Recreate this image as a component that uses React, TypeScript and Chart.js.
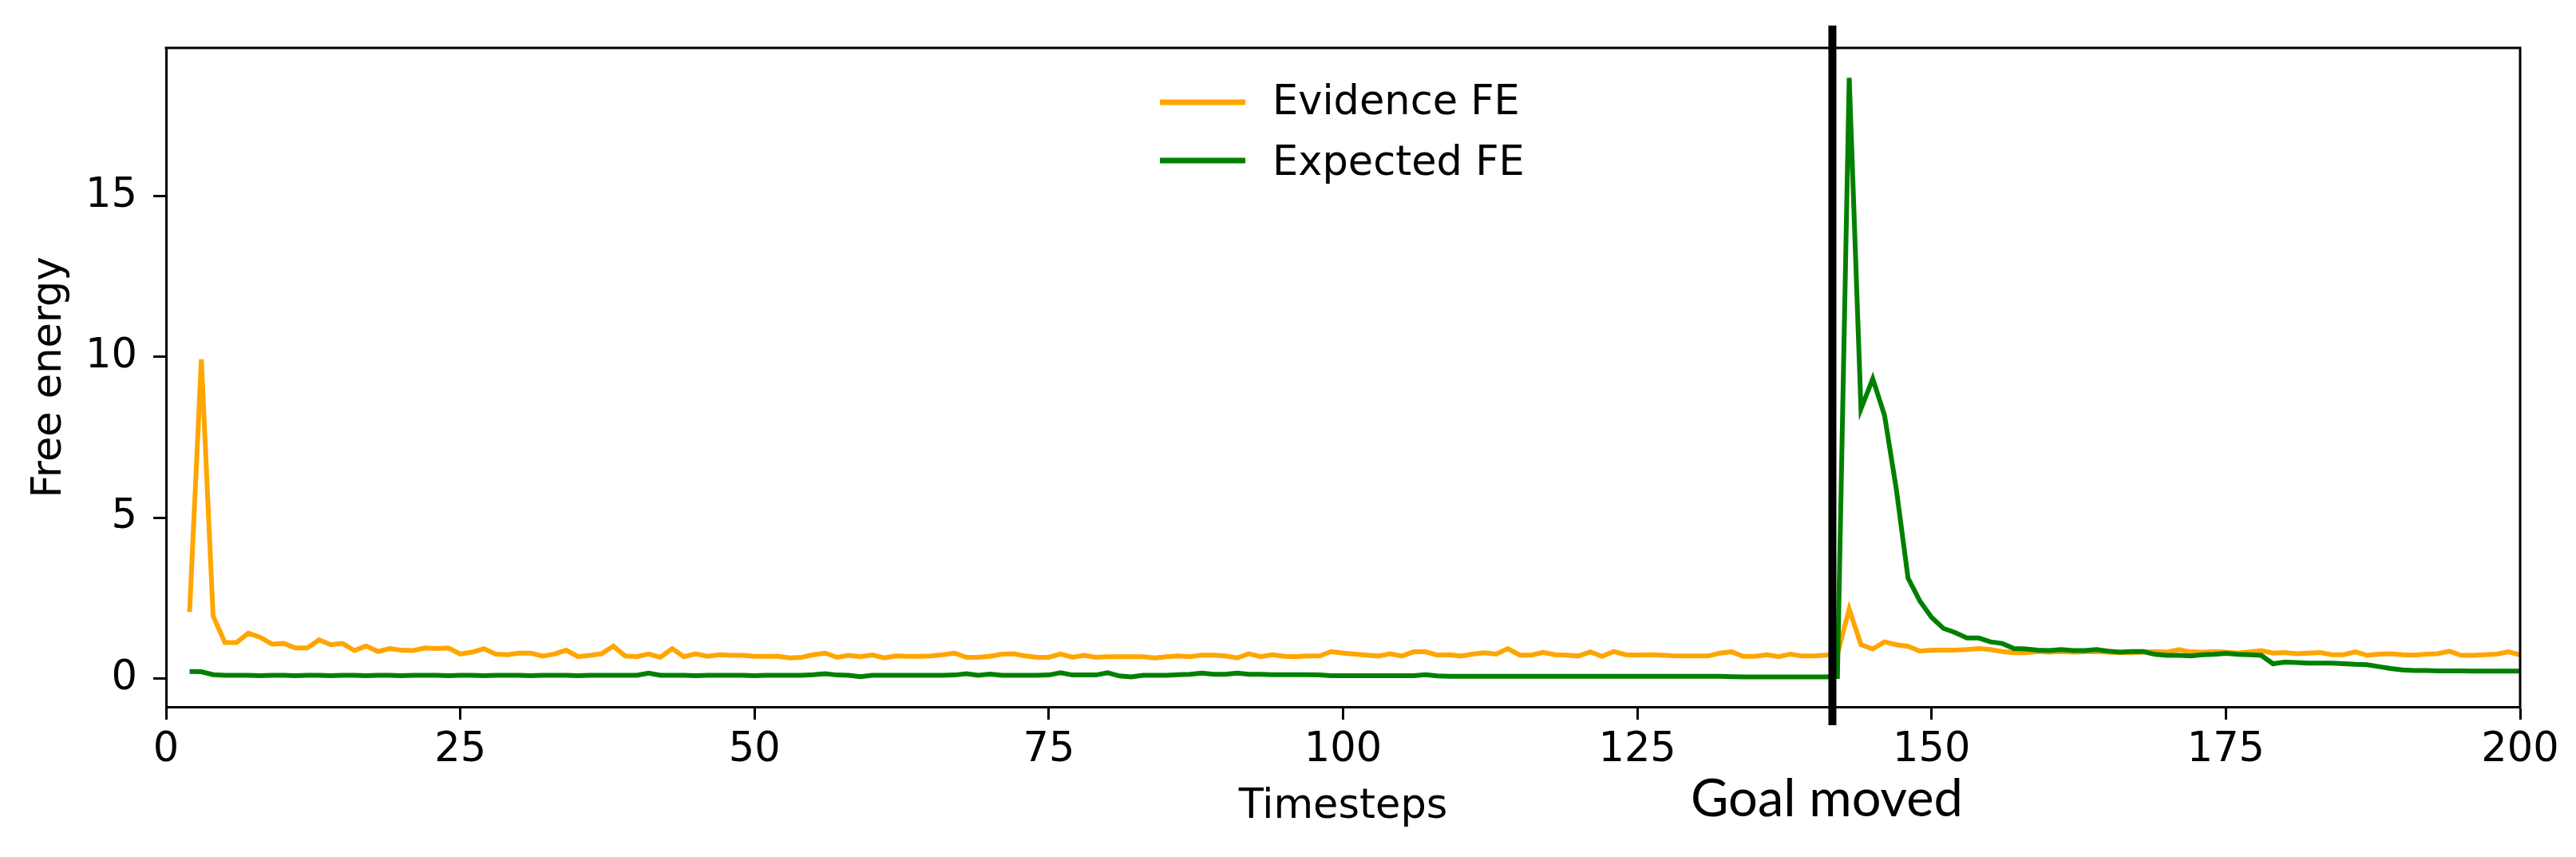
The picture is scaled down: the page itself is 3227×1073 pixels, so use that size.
import React, { useEffect, useRef } from "react";
import { Chart, registerables } from "chart.js";

Chart.register(...registerables);

// ---- data ----
const TIMESTEPS: number[] = Array.from({ length: 199 }, (_, i) => i + 2); // 2..200

const SERIES_LABELS = ["Evidence FE", "Expected FE"];

// Evidence FE (orange), timesteps 2..200
const EVIDENCE_FE: number[] = [
  2.07, 9.92, 1.94, 1.12, 1.12, 1.41, 1.28, 1.07, 1.09, 0.95, // 2-11
  0.95, 1.2, 1.05, 1.09, 0.87, 1.01, 0.84, 0.93, 0.88, 0.87, // 12-21
  0.95, 0.93, 0.95, 0.76, 0.82, 0.93, 0.76, 0.74, 0.79, 0.79, // 22-31
  0.7, 0.76, 0.88, 0.68, 0.72, 0.77, 1.01, 0.7, 0.68, 0.76, // 32-41
  0.66, 0.93, 0.68, 0.77, 0.69, 0.74, 0.72, 0.72, 0.69, 0.69, // 42-51
  0.69, 0.64, 0.66, 0.74, 0.79, 0.66, 0.72, 0.68, 0.73, 0.64, // 52-61
  0.7, 0.69, 0.69, 0.7, 0.74, 0.79, 0.66, 0.66, 0.69, 0.76, // 62-71
  0.77, 0.7, 0.66, 0.66, 0.76, 0.66, 0.72, 0.66, 0.68, 0.68, // 72-81
  0.68, 0.68, 0.64, 0.68, 0.7, 0.68, 0.73, 0.73, 0.7, 0.64, // 82-91
  0.77, 0.68, 0.74, 0.69, 0.68, 0.7, 0.7, 0.84, 0.79, 0.76, // 92-101
  0.73, 0.7, 0.77, 0.7, 0.83, 0.83, 0.73, 0.74, 0.7, 0.76, // 102-111
  0.8, 0.76, 0.93, 0.73, 0.73, 0.81, 0.74, 0.73, 0.7, 0.83, // 112-121
  0.69, 0.84, 0.74, 0.73, 0.74, 0.73, 0.71, 0.7, 0.7, 0.7, // 122-131
  0.79, 0.83, 0.69, 0.69, 0.74, 0.68, 0.76, 0.7, 0.7, 0.73, // 132-141
  0.75, 2.16, 1.05, 0.92, 1.14, 1.05, 1.0, 0.85, 0.88, 0.88, // 142-151
  0.88, 0.9, 0.93, 0.9, 0.84, 0.8, 0.8, 0.84, 0.82, 0.84, // 152-161
  0.82, 0.83, 0.84, 0.82, 0.8, 0.8, 0.82, 0.84, 0.82, 0.9, // 162-171
  0.83, 0.82, 0.84, 0.82, 0.79, 0.83, 0.87, 0.79, 0.81, 0.77, // 172-181
  0.79, 0.81, 0.74, 0.74, 0.83, 0.72, 0.76, 0.77, 0.74, 0.73, // 182-191
  0.76, 0.77, 0.85, 0.72, 0.72, 0.74, 0.76, 0.83, 0.74, // 192-200
];

// Expected FE (green), timesteps 2..200
const EXPECTED_FE: number[] = [
  0.22, 0.21, 0.12, 0.1, 0.1, 0.1, 0.09, 0.1, 0.1, 0.09, // 2-11
  0.1, 0.1, 0.09, 0.1, 0.1, 0.09, 0.1, 0.1, 0.09, 0.1, // 12-21
  0.1, 0.1, 0.09, 0.1, 0.1, 0.09, 0.1, 0.1, 0.1, 0.09, // 22-31
  0.1, 0.1, 0.1, 0.09, 0.1, 0.1, 0.1, 0.1, 0.1, 0.17, // 32-41
  0.1, 0.1, 0.1, 0.09, 0.1, 0.1, 0.1, 0.1, 0.09, 0.1, // 42-51
  0.1, 0.1, 0.1, 0.12, 0.15, 0.11, 0.1, 0.06, 0.1, 0.1, // 52-61
  0.1, 0.1, 0.1, 0.1, 0.1, 0.11, 0.15, 0.1, 0.14, 0.1, // 62-71
  0.1, 0.1, 0.1, 0.11, 0.18, 0.11, 0.11, 0.11, 0.18, 0.08, // 72-81
  0.05, 0.1, 0.1, 0.1, 0.12, 0.13, 0.17, 0.13, 0.13, 0.17, // 82-91
  0.13, 0.13, 0.12, 0.12, 0.12, 0.12, 0.11, 0.09, 0.09, 0.09, // 92-101
  0.09, 0.09, 0.09, 0.09, 0.09, 0.12, 0.08, 0.07, 0.07, 0.07, // 102-111
  0.07, 0.07, 0.07, 0.07, 0.07, 0.07, 0.07, 0.07, 0.07, 0.07, // 112-121
  0.07, 0.07, 0.07, 0.07, 0.07, 0.07, 0.07, 0.07, 0.07, 0.07, // 122-131
  0.07, 0.06, 0.05, 0.05, 0.05, 0.05, 0.05, 0.05, 0.05, 0.05, // 132-141
  0.06, 18.67, 8.38, 9.32, 8.18, 5.89, 3.12, 2.41, 1.9, 1.56, // 142-151
  1.43, 1.26, 1.26, 1.14, 1.09, 0.93, 0.92, 0.88, 0.87, 0.9, // 152-161
  0.87, 0.87, 0.9, 0.85, 0.82, 0.84, 0.84, 0.75, 0.72, 0.72, // 162-171
  0.7, 0.74, 0.75, 0.78, 0.75, 0.74, 0.72, 0.46, 0.51, 0.5, // 172-181
  0.48, 0.48, 0.48, 0.46, 0.44, 0.43, 0.37, 0.31, 0.27, 0.25, // 182-191
  0.25, 0.24, 0.24, 0.24, 0.23, 0.23, 0.23, 0.23, 0.23, // 192-200
];

const X_TICKS = [0, 25, 50, 75, 100, 125, 150, 175, 200];
const Y_TICKS = [0, 5, 10, 15];
const GOAL_MOVED_AT = 141.57;
const GOAL_LABEL = "Goal moved";

const COLORS = ["#FFA500", "#008000"];
const FONT = '"DejaVu Sans", sans-serif';
const FS = 51;

const overlayPlugin = {
  id: "overlay",
  afterDatasetsDraw(chart: any) {
    const { ctx, chartArea: a, scales } = chart;
    const xs = scales.x;
    ctx.save();
    // top & right spines
    ctx.strokeStyle = "#000";
    ctx.lineWidth = 3;
    ctx.beginPath();
    ctx.moveTo(a.left - 1.5, a.top);
    ctx.lineTo(a.right, a.top);
    ctx.lineTo(a.right, a.bottom + 1.5);
    ctx.stroke();

    // goal moved marker
    const gx = xs.getPixelForValue(GOAL_MOVED_AT);
    ctx.lineWidth = 10;
    ctx.lineCap = "butt";
    ctx.beginPath();
    ctx.moveTo(gx, a.top - 28);
    ctx.lineTo(gx, a.bottom + 23);
    ctx.stroke();

    ctx.fillStyle = "#000";
    ctx.font = '65px Lato, "Open Sans", sans-serif';
    ctx.textAlign = "center";
    ctx.textBaseline = "alphabetic";
    ctx.fillText(GOAL_LABEL, gx - 7, a.bottom + 137);

    // legend
    const cx = (a.left + a.right) / 2;
    const rowsLine = [a.top + 68, a.top + 141];
    const rowsText = [a.top + 83, a.top + 159];
    ctx.font = `${FS}px ${FONT}`;
    ctx.textAlign = "left";
    chart.data.datasets.forEach((ds: any, i: number) => {
      ctx.strokeStyle = ds.borderColor;
      ctx.lineWidth = 7;
      ctx.beginPath();
      ctx.moveTo(cx - 229.5, rowsLine[i]);
      ctx.lineTo(cx - 122.5, rowsLine[i]);
      ctx.stroke();
      ctx.fillStyle = "#000";
      ctx.fillText(ds.label, cx - 88.5, rowsText[i]);
    });
    ctx.restore();
  },
};

export default function App() {
  const ref = useRef<HTMLCanvasElement | null>(null);

  useEffect(() => {
    document.body.style.margin = "0";
    document.body.style.overflow = "hidden";
    const canvas = ref.current;
    if (!canvas) return;
    const chart = new Chart(canvas, {
      type: "line",
      data: {
        datasets: [
          {
            label: SERIES_LABELS[0],
            data: EVIDENCE_FE.map((y, i) => ({ x: TIMESTEPS[i], y })),
            borderColor: COLORS[0],
            backgroundColor: COLORS[0],
            borderWidth: 6,
            pointRadius: 0,
            tension: 0,
            order: 1,
          },
          {
            label: SERIES_LABELS[1],
            data: EXPECTED_FE.map((y, i) => ({ x: TIMESTEPS[i], y })),
            borderColor: COLORS[1],
            backgroundColor: COLORS[1],
            borderWidth: 6,
            pointRadius: 0,
            tension: 0,
            order: 0,
          },
        ],
      },
      options: {
        animation: false,
        responsive: false,
        maintainAspectRatio: false,
        devicePixelRatio: 1,
        layout: { padding: { top: 60, right: 70, left: 0, bottom: 0 } },
        plugins: {
          legend: { display: false },
          tooltip: { enabled: false },
          title: { display: false },
        },
        scales: {
          x: {
            type: "linear",
            min: 0,
            max: 200,
            afterBuildTicks: (axis: any) => {
              axis.ticks = X_TICKS.map((v) => ({ value: v }));
            },
            afterFit: (scale: any) => {
              scale.height = 188;
            },
            ticks: {
              color: "#000",
              font: { family: FONT, size: FS },
              padding: 8,
              maxRotation: 0,
              autoSkip: false,
              callback: (v: any) => String(v),
            },
            grid: {
              display: true,
              drawOnChartArea: false,
              drawTicks: true,
              tickLength: 16,
              tickWidth: 3,
              tickColor: "#000",
            },
            border: { display: true, color: "#000", width: 3 },
            title: {
              display: true,
              text: "Timesteps",
              color: "#000",
              font: { family: FONT, size: FS },
              padding: { top: 0, bottom: 32 },
            },
          },
          y: {
            type: "linear",
            min: -0.88,
            max: 19.6,
            afterBuildTicks: (axis: any) => {
              axis.ticks = Y_TICKS.map((v) => ({ value: v }));
            },
            afterFit: (scale: any) => {
              scale.width = 208;
            },
            ticks: {
              color: "#000",
              font: { family: FONT, size: FS },
              padding: 20,
              autoSkip: false,
              callback: (v: any) => String(v),
            },
            grid: {
              display: true,
              drawOnChartArea: false,
              drawTicks: true,
              tickLength: 16,
              tickWidth: 3,
              tickColor: "#000",
            },
            border: { display: true, color: "#000", width: 3 },
            title: {
              display: true,
              text: "Free energy",
              color: "#000",
              font: { family: FONT, size: FS },
              padding: { top: 32, bottom: 0 },
            },
          },
        },
      },
      plugins: [overlayPlugin],
    });
    return () => chart.destroy();
  }, []);

  return (
    <div style={{ position: "absolute", left: 0, top: 0, width: 3227, height: 1073, background: "#fff" }}>
      <canvas ref={ref} width={3227} height={1073} style={{ display: "block" }} />
    </div>
  );
}
